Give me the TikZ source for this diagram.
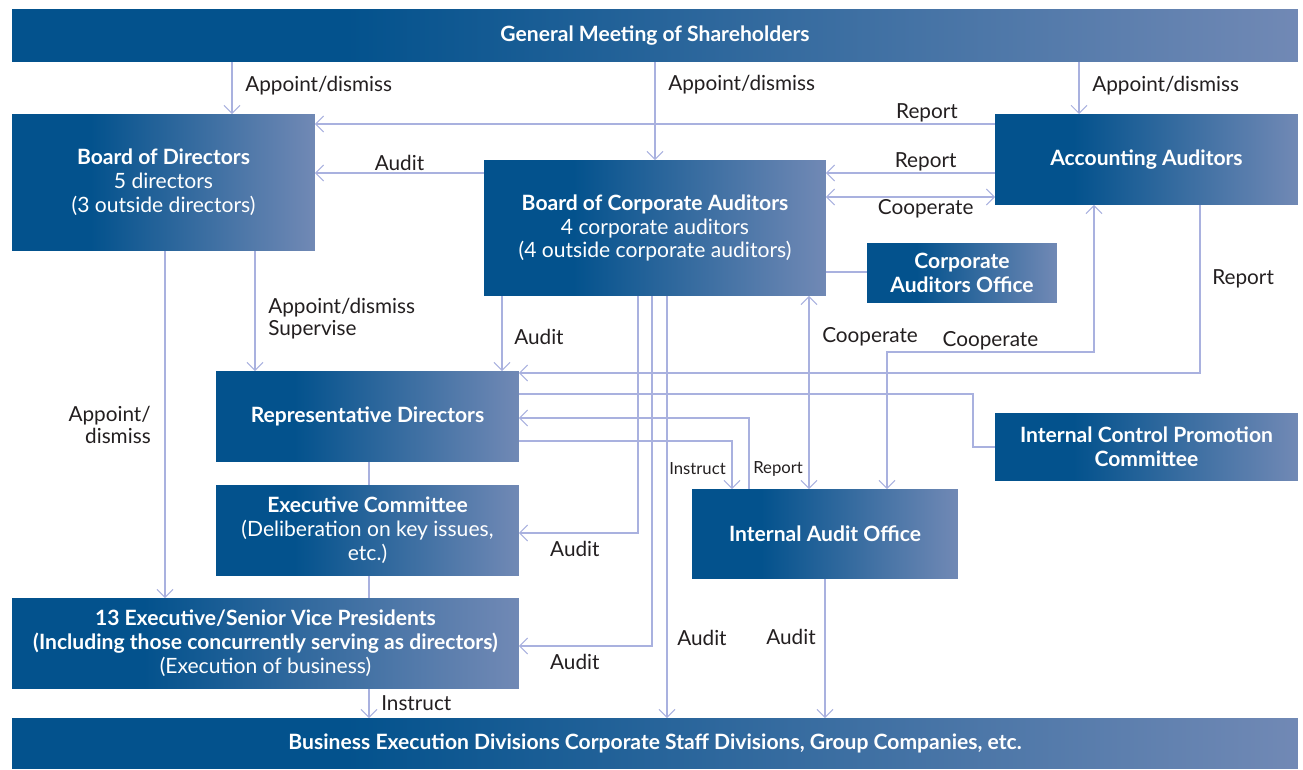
\documentclass[tikz,border=0pt]{standalone}
\usepackage{fontspec}
\setmainfont{Lato}
\usepackage{tikz}
\usetikzlibrary{arrows.meta,calc}
\definecolor{boxleft}{HTML}{03528D}
\definecolor{boxright}{HTML}{7189B5}
\definecolor{linkline}{HTML}{A9B1DF}
\definecolor{labeltext}{HTML}{231F20}
\pgfdeclarehorizontalshading{boxshade}{100bp}{color(0bp)=(boxleft); color(25bp)=(boxleft);
  color(38bp)=(boxleft); color(75bp)=(boxright); color(100bp)=(boxright)}

\begin{document}
\begin{tikzpicture}[x=0.02cm, y=-0.02cm,
                    box/.style = {shading=boxshade, draw=none, text=white, align=center,
                                  inner sep=0pt, outer sep=0pt,
                                  font=\fontsize{12}{13.6}\selectfont},
                    lbl/.style = {text=labeltext, inner sep=1pt, align=left,
                                  font=\fontsize{11.8}{12.5}\selectfont},
                    small/.style = {font=\fontsize{9.5}{11}\selectfont},
                    ln/.style = {draw=linkline, line width=0.6pt},
                    arr/.style = {ln, -{Straight Barb[length=4.5pt,width=9pt]}},
                    arr2/.style = {ln, {Straight Barb[length=4.5pt,width=9pt]}-{Straight Barb[length=4.5pt,width=9pt]}}]
\useasboundingbox (0,0) rectangle (1303,770);

% boxes
\node[box, minimum width=25.72cm, minimum height=1.06cm] (gms) at (655,35.5)
    {\bfseries General Meeting of Shareholders};
\node[box, minimum width=6.06cm, minimum height=2.74cm] (bod) at (163.5,182.5)
    {\bfseries Board of Directors\\5 directors\\(3 outside directors)};
\node[box, minimum width=6.84cm, minimum height=2.72cm] (bca) at (655,228)
    {\bfseries Board of Corporate Auditors\\4 corporate auditors\\(4 outside corporate auditors)};
\node[box, minimum width=6.06cm, minimum height=1.82cm] (aa) at (1146.5,159.5)
    {\bfseries Accounting Auditors};
\node[box, minimum width=3.8cm, minimum height=1.2cm] (cao) at (962,273)
    {\bfseries Corporate\\\bfseries Auditors Office};
\node[box, minimum width=6.06cm, minimum height=1.82cm] (rd) at (367.5,416.5)
    {\bfseries Representative Directors};
\node[box, minimum width=6.06cm, minimum height=1.36cm] (icpc) at (1146.5,447)
    {\bfseries Internal Control Promotion\\\bfseries Committee};
\node[box, minimum width=6.06cm, minimum height=1.82cm] (ec) at (367.5,530.5)
    {\bfseries Executive Committee\\(Deliberation on key issues,\\etc.)};
\node[box, minimum width=5.32cm, minimum height=1.8cm] (iao) at (825,534)
    {\bfseries Internal Audit Office};
\node[box, minimum width=10.14cm, minimum height=1.82cm] (evp) at (265.5,643.5)
    {\bfseries 13 Executive/Senior Vice Presidents\\\bfseries (Including those concurrently serving as directors)\\(Execution of business)};
\node[box, minimum width=25.72cm, minimum height=1.02cm] (bed) at (655,743.5)
    {\bfseries Business Execution Divisions Corporate Staff Divisions, Group Companies, etc.};

% shareholders
\draw[arr] (232,0 |- gms.south) -- node[lbl,right=.22cm,pos=.45]{Appoint/dismiss} (232,0 |- bod.north);
\draw[arr] (gms.south) -- node[lbl,right=.22cm,pos=.23]{Appoint/dismiss} (bca.north);
\draw[arr] (1079,0 |- gms.south) -- node[lbl,right=.22cm,pos=.45]{Appoint/dismiss} (1079,0 |- aa.north);

% accounting auditors and corporate auditors
\draw[arr] (aa.west |- 0,124) -- node[lbl,above,pos=.1]{Report} (bod.east |- 0,124);
\draw[arr] (bca.west |- 0,173) -- node[lbl,above]{Audit} (bod.east |- 0,173);
\draw[arr] (aa.west |- 0,173) -- node[lbl,above,pos=.41]{Report} (bca.east |- 0,173);
\draw[arr2] (bca.east |- 0,197) -- node[lbl,below,pos=.59]{Cooperate} (aa.west |- 0,197);
\draw[ln] (bca.east |- 0,272) -- (cao.west |- 0,272);

% board of directors
\draw[arr] (165,0 |- bod.south) -- node[lbl,left=.24cm,align=right]{Appoint/\\dismiss} (165,0 |- evp.north);
\draw[arr] (255,0 |- bod.south) -- node[lbl,right=.22cm,pos=.56]{Appoint/dismiss\\Supervise} (255,0 |- rd.north);
\draw[arr] (502,0 |- bca.south) -- node[lbl,right=.2cm,pos=.55]{Audit} (502,0 |- rd.north);

% reports and cooperation
\draw[arr] (1200,0 |- aa.south) |- node[lbl,right=.2cm,pos=.22]{Report} (rd.east |- 0,373);
\draw[arr2] (1094,0 |- aa.south) |- node[lbl,above,pos=.75]{Cooperate} (887,352) -- (887,0 |- iao.north);
\draw[arr2] (809,0 |- bca.south) -- node[lbl,right=.22cm,pos=.21]{Cooperate} (809,0 |- iao.north);
\draw[ln] (rd.east |- 0,394) -| (973,0 |- 0,447) -- (icpc.west |- 0,447);

% internal audit office
\draw[arr] (749,0 |- iao.north) |- node[lbl,small,right=.04cm,pos=.14]{Report} (rd.east |- 0,418);
\draw[arr] (rd.east |- 0,441) -| node[lbl,small,left=.08cm,pos=.79]{Instruct} (732,0 |- iao.north);

% audits of execution
\draw[arr] (638,0 |- bca.south) |- node[lbl,below=.12cm,pos=.765]{Audit} (ec.east |- 0,533);
\draw[arr] (652,0 |- bca.south) |- node[lbl,below=.12cm,pos=.79]{Audit} (evp.east |- 0,646);
\draw[arr] (667,0 |- bca.south) -- node[lbl,right=.16cm,pos=.81]{Audit} (667,0 |- bed.north);
\draw[arr] (iao.south) -- node[lbl,left=.14cm,pos=.42]{Audit} (iao.south |- bed.north);

% line of execution
\draw[ln] (369,0 |- rd.south) -- (369,0 |- ec.north);
\draw[ln] (369,0 |- ec.south) -- (369,0 |- evp.north);
\draw[arr] (369,0 |- evp.south) -- node[lbl,right=.2cm]{Instruct} (369,0 |- bed.north);
\end{tikzpicture}
\end{document}
